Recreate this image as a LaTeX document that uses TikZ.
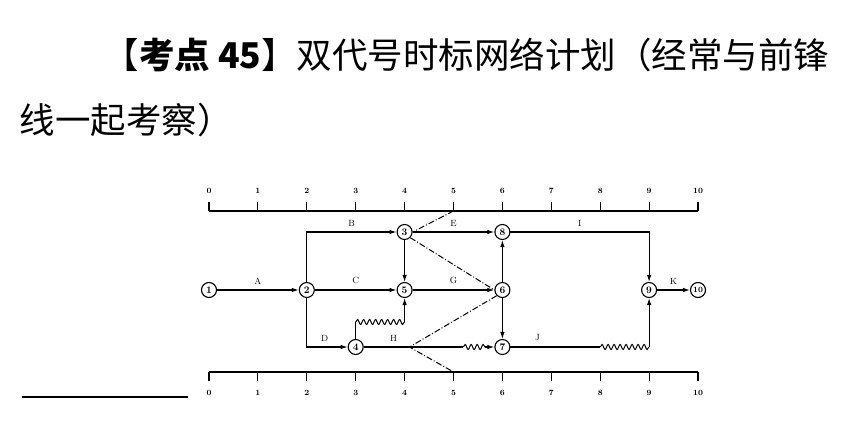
\documentclass[tikz,border=0pt]{standalone}
\usepackage{fontspec}
\newfontfamily\cjk{Noto Sans CJK SC}
\usetikzlibrary{arrows.meta,decorations.pathmorphing}
\begin{document}
\begin{tikzpicture}[x=1pt,y=-1pt,
  nd/.style={circle,draw,line width=1.1pt,inner sep=0pt,minimum size=15pt,font=\fontsize{10}{10}\selectfont\bfseries},
  ln/.style={line width=1.1pt},
  ar/.style={line width=1.1pt,-{Latex[length=7pt,width=4.5pt]}},
  wv/.style={line width=1pt,decorate,decoration={snake,segment length=6pt,amplitude=2.5pt}},
  fr/.style={line width=1pt,dash pattern=on 6pt off 2pt on 1pt off 2pt},
  lb/.style={font=\fontsize{9}{9}\selectfont},
  tk/.style={font=\fontsize{8}{8}\selectfont\bfseries}]
\useasboundingbox (0,0) rectangle (860,447);
\def\u{48.9}
% title
\node[anchor=west,font=\cjk\fontsize{35.5}{38}\selectfont] (t1) at (100,55) {【\textbf{考点 45}】双代号时标网络计划（经常与前锋};
\node[anchor=west,font=\cjk\fontsize{35.5}{38}\selectfont] (t2) at (16,120) {线一起考察）};
\draw[line width=1.3pt] (22,397) -- (188,397);
% axes
\draw[line width=1.3pt] (209,211) -- (698,211);
\draw[line width=1.3pt] (209,372) -- (698,372);
\foreach \i in {0,...,10}{
  \draw[line width=1.1pt] ({209+\u*\i},211) -- ({209+\u*\i},202);
  \node[tk] at ({209+\u*\i},191) {\i};
  \draw[line width=1.1pt] ({209+\u*\i},372) -- ({209+\u*\i},381);
  \node[tk] at ({209+\u*\i},393) {\i};
}
% nodes
\node[nd] (n1) at ({209},290) {1};
\node[nd] (n2) at ({209+\u*2},290) {2};
\node[nd] (n3) at ({209+\u*4},232) {3};
\node[nd] (n4) at ({209+\u*3},347) {4};
\node[nd] (n5) at ({209+\u*4},290) {5};
\node[nd] (n6) at ({209+\u*6},290) {6};
\node[nd] (n7) at ({209+\u*6},347) {7};
\node[nd] (n8) at ({209+\u*6},232) {8};
\node[nd] (n9) at ({209+\u*9},290) {9};
\node[nd,font=\fontsize{8}{8}\selectfont\bfseries] (n10) at ({209+\u*10},290) {10};
% arrows
\draw[ar] (n1) -- node[lb,above=2pt]{A} (n2);
\draw[ar] (n2) |- node[lb,above=2pt,pos=0.75]{B} (n3);
\draw[ar] (n2) -- node[lb,above=2pt]{C} (n5);
\draw[ar] (n2) |- node[lb,above=2pt,pos=0.72]{D} (n4);
\draw[ar] (n3) -- node[lb,above=2pt]{E} (n8);
\draw[ar] (n3) -- (n5);
\draw[ar] (n5) -- node[lb,above=2pt]{G} (n6);
\draw[ar] (n6) -- (n8);
\draw[ar] (n6) -- (n7);
\draw[ar] (n8) -| node[lb,above=2pt,pos=0.25]{I} (n9);
\draw[ar] (n9) -- node[lb,above=2pt]{K} (n10);
% 4 -> 5 wavy
\coordinate (w1) at ({209+\u*3},322);
\coordinate (w2) at ({209+\u*4},322);
\draw[ln] (n4) -- (w1);
\draw[wv] (w1) -- (w2);
\draw[ar] (w2) -- (n5);
% H
\coordinate (h1) at ({209+\u*5.2},347);
\coordinate (h2) at ({209+\u*5.65},347);
\draw[ln] (n4) -- node[lb,above=2pt,pos=0.3]{H} (h1);
\draw[wv] (h1) -- (h2);
\draw[ar] (h2) -- (n7);
% J
\coordinate (j1) at ({209+\u*8},347);
\coordinate (j2) at ({209+\u*9},347);
\draw[ln] (n7) -- node[lb,above=2pt,pos=0.3]{J} (j1);
\draw[wv] (j1) -- (j2);
\draw[ar] (j2) -- (n9);
% frontier
\coordinate (f0) at ({209+\u*5},211);
\coordinate (f3) at ({209+\u*4.1},347);
\coordinate (f4) at ({209+\u*5},372);
\draw[fr] (f0) -- (n3.east) (n3.south east) -- (n6.west) (n6.south west) -- (f3) -- (f4);
\end{tikzpicture}
\end{document}
